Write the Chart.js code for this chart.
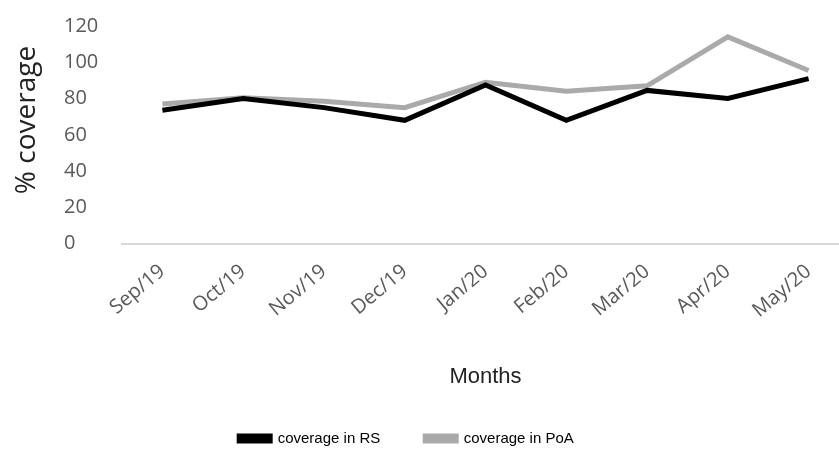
<!DOCTYPE html>
<html><head><meta charset="utf-8">
<script src="https://cdn.jsdelivr.net/npm/chart.js@4/dist/chart.umd.min.js"></script>
<style>html,body{margin:0;padding:0;background:#fff;overflow:hidden;}#wrap{width:850px;height:452px;}</style>
</head><body><div id="wrap"><canvas id="c" width="850" height="452"></canvas></div>
<script>
const months = ["Sep/19","Oct/19","Nov/19","Dec/19","Jan/20","Feb/20","Mar/20","Apr/20","May/20"];
const coverageRS = [73.5, 80, 75, 68, 87.5, 68, 84.5, 80, 91];
const coveragePoA = [77, 80.5, 78.5, 75, 89, 84, 87, 114, 95.5];
const yTicks = [0, 20, 40, 60, 80, 100, 120];
const yTitle = '% coverage';

const yTitlePlugin = {
  id: 'yTitle',
  afterLayout(chart) {
    if (chart.legend) { chart.legend.left -= 50; chart.legend.right -= 50; }
  },
  afterDraw(chart) {
    const ctx = chart.ctx;
    ctx.save();
    ctx.translate(27, 120);
    ctx.rotate(-Math.PI / 2);
    ctx.font = '28px "Open Sans"';
    ctx.fillStyle = '#222222';
    ctx.textAlign = 'center';
    ctx.textBaseline = 'middle';
    ctx.fillText(yTitle, 0, 0);
    ctx.restore();
  }
};

new Chart(document.getElementById('c'), {
  type: 'line',
  data: {
    labels: months,
    datasets: [
      {label: 'coverage in RS', data: coverageRS, borderColor: '#000000', backgroundColor: '#000000', borderWidth: 5, pointRadius: 0, tension: 0},
      {label: 'coverage in PoA', data: coveragePoA, borderColor: '#aaaaaa', backgroundColor: '#aaaaaa', borderWidth: 5, pointRadius: 0, tension: 0}
    ]
  },
  plugins: [yTitlePlugin],
  options: {
    responsive: false,
    animation: false,
    layout: {padding: {top: 26, left: 64, right: 1, bottom: -4}},
    plugins: {
      legend: {
        position: 'bottom',
        labels: {boxWidth: 31, boxHeight: 5, padding: 45, color: '#000', font: {family: 'Liberation Sans', size: 15}}
      },
      tooltip: {enabled: false}
    },
    scales: {
      x: {
        offset: true,
        afterFit: (ax) => { ax.paddingTop = 0; ax.paddingBottom = 0; },
        grid: {display: false, drawTicks: false},
        border: {color: '#d9d9d9', width: 2},
        ticks: {minRotation: 40, maxRotation: 40, padding: 16, color: '#595959', font: {family: 'Open Sans', size: 20}},
        title: {display: true, text: 'Months', color: '#222', font: {family: 'Liberation Sans', size: 22}, padding: {top: 25, bottom: -4}}
      },
      y: {
        min: 0, max: 120,
        afterBuildTicks: (ax) => { ax.ticks = yTicks.map(v => ({value: v})); },
        afterFit: (ax) => { ax.width = 58; ax.paddingTop = 0; ax.paddingBottom = 0; },
        grid: {display: false, drawTicks: false},
        border: {display: false},
        ticks: {color: '#595959', padding: 20, crossAlign: 'far', font: {family: 'Open Sans', size: 20}}
      }
    }
  }
});
</script></body></html>
